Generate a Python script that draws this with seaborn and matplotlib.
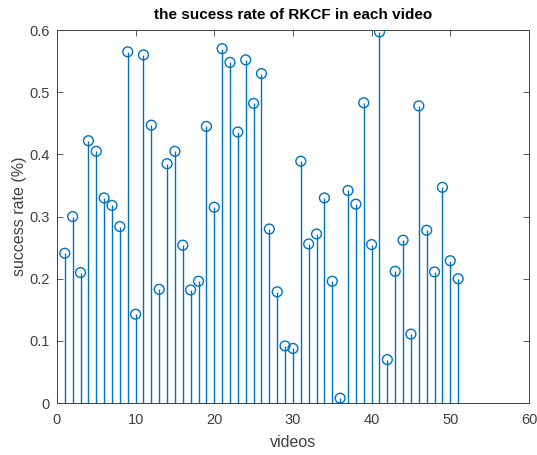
import matplotlib
matplotlib.use("Agg")
import matplotlib.pyplot as plt
import seaborn as sns
import numpy as np
import pandas as pd

videos = list(range(1, 52))
success_rate = [0.241, 0.300, 0.210, 0.422, 0.405, 0.330, 0.318, 0.284, 0.565, 0.143,
                0.560, 0.447, 0.183, 0.385, 0.405, 0.254, 0.182, 0.196, 0.445, 0.315,
                0.570, 0.548, 0.436, 0.552, 0.482, 0.530, 0.280, 0.179, 0.092, 0.088,
                0.389, 0.256, 0.272, 0.330, 0.196, 0.008, 0.342, 0.320, 0.483, 0.255,
                0.597, 0.070, 0.212, 0.262, 0.111, 0.478, 0.278, 0.211, 0.347, 0.229,
                0.200]
x_ticks = [0, 10, 20, 30, 40, 50, 60]
y_ticks = [0, 0.1, 0.2, 0.3, 0.4, 0.5, 0.6]
y_tick_labels = ["0", "0.1", "0.2", "0.3", "0.4", "0.5", "0.6"]

sns.set_theme(style="white")
plt.rcParams['font.family'] = ['Liberation Sans', 'DejaVu Sans']

df = pd.DataFrame({"videos": videos, "rate": success_rate})
color = "#0072BD"

fig = plt.figure(figsize=(5.37, 4.55), dpi=100)
ax = fig.add_axes([0.106, 0.114, 0.879, 0.820])

ax.vlines(df["videos"], 0, df["rate"], color=color, lw=1.0, zorder=2)
sns.scatterplot(data=df, x="videos", y="rate", ax=ax, marker="o", s=50,
                facecolors="none", edgecolor=color, linewidth=1.0, zorder=3)

ax.set_xlim(0, 60)
ax.set_ylim(0, 0.6)
ax.set_xticks(x_ticks)
ax.set_yticks(y_ticks)
ax.set_yticklabels(y_tick_labels)
ax.tick_params(direction="in", length=4, width=0.6, colors="#404040",
               labelsize=10.5, top=True, right=True, bottom=True, left=True,
               labelcolor="#404040")
ax.tick_params(axis="x", pad=7)
ax.tick_params(axis="y", pad=5)
for s in ax.spines.values():
    s.set_color("#404040")
    s.set_linewidth(0.7)
    s.set_visible(True)

ax.set_xlabel("videos", fontsize=11.5, color="#404040", labelpad=6)
ax.set_ylabel("success rate (%)", fontsize=11.5, color="#404040", labelpad=2)
ax.set_title("the sucess rate of RKCF in each video", fontsize=11,
             fontweight="bold", color="black", pad=8)

fig.savefig("out.png", dpi=100)
